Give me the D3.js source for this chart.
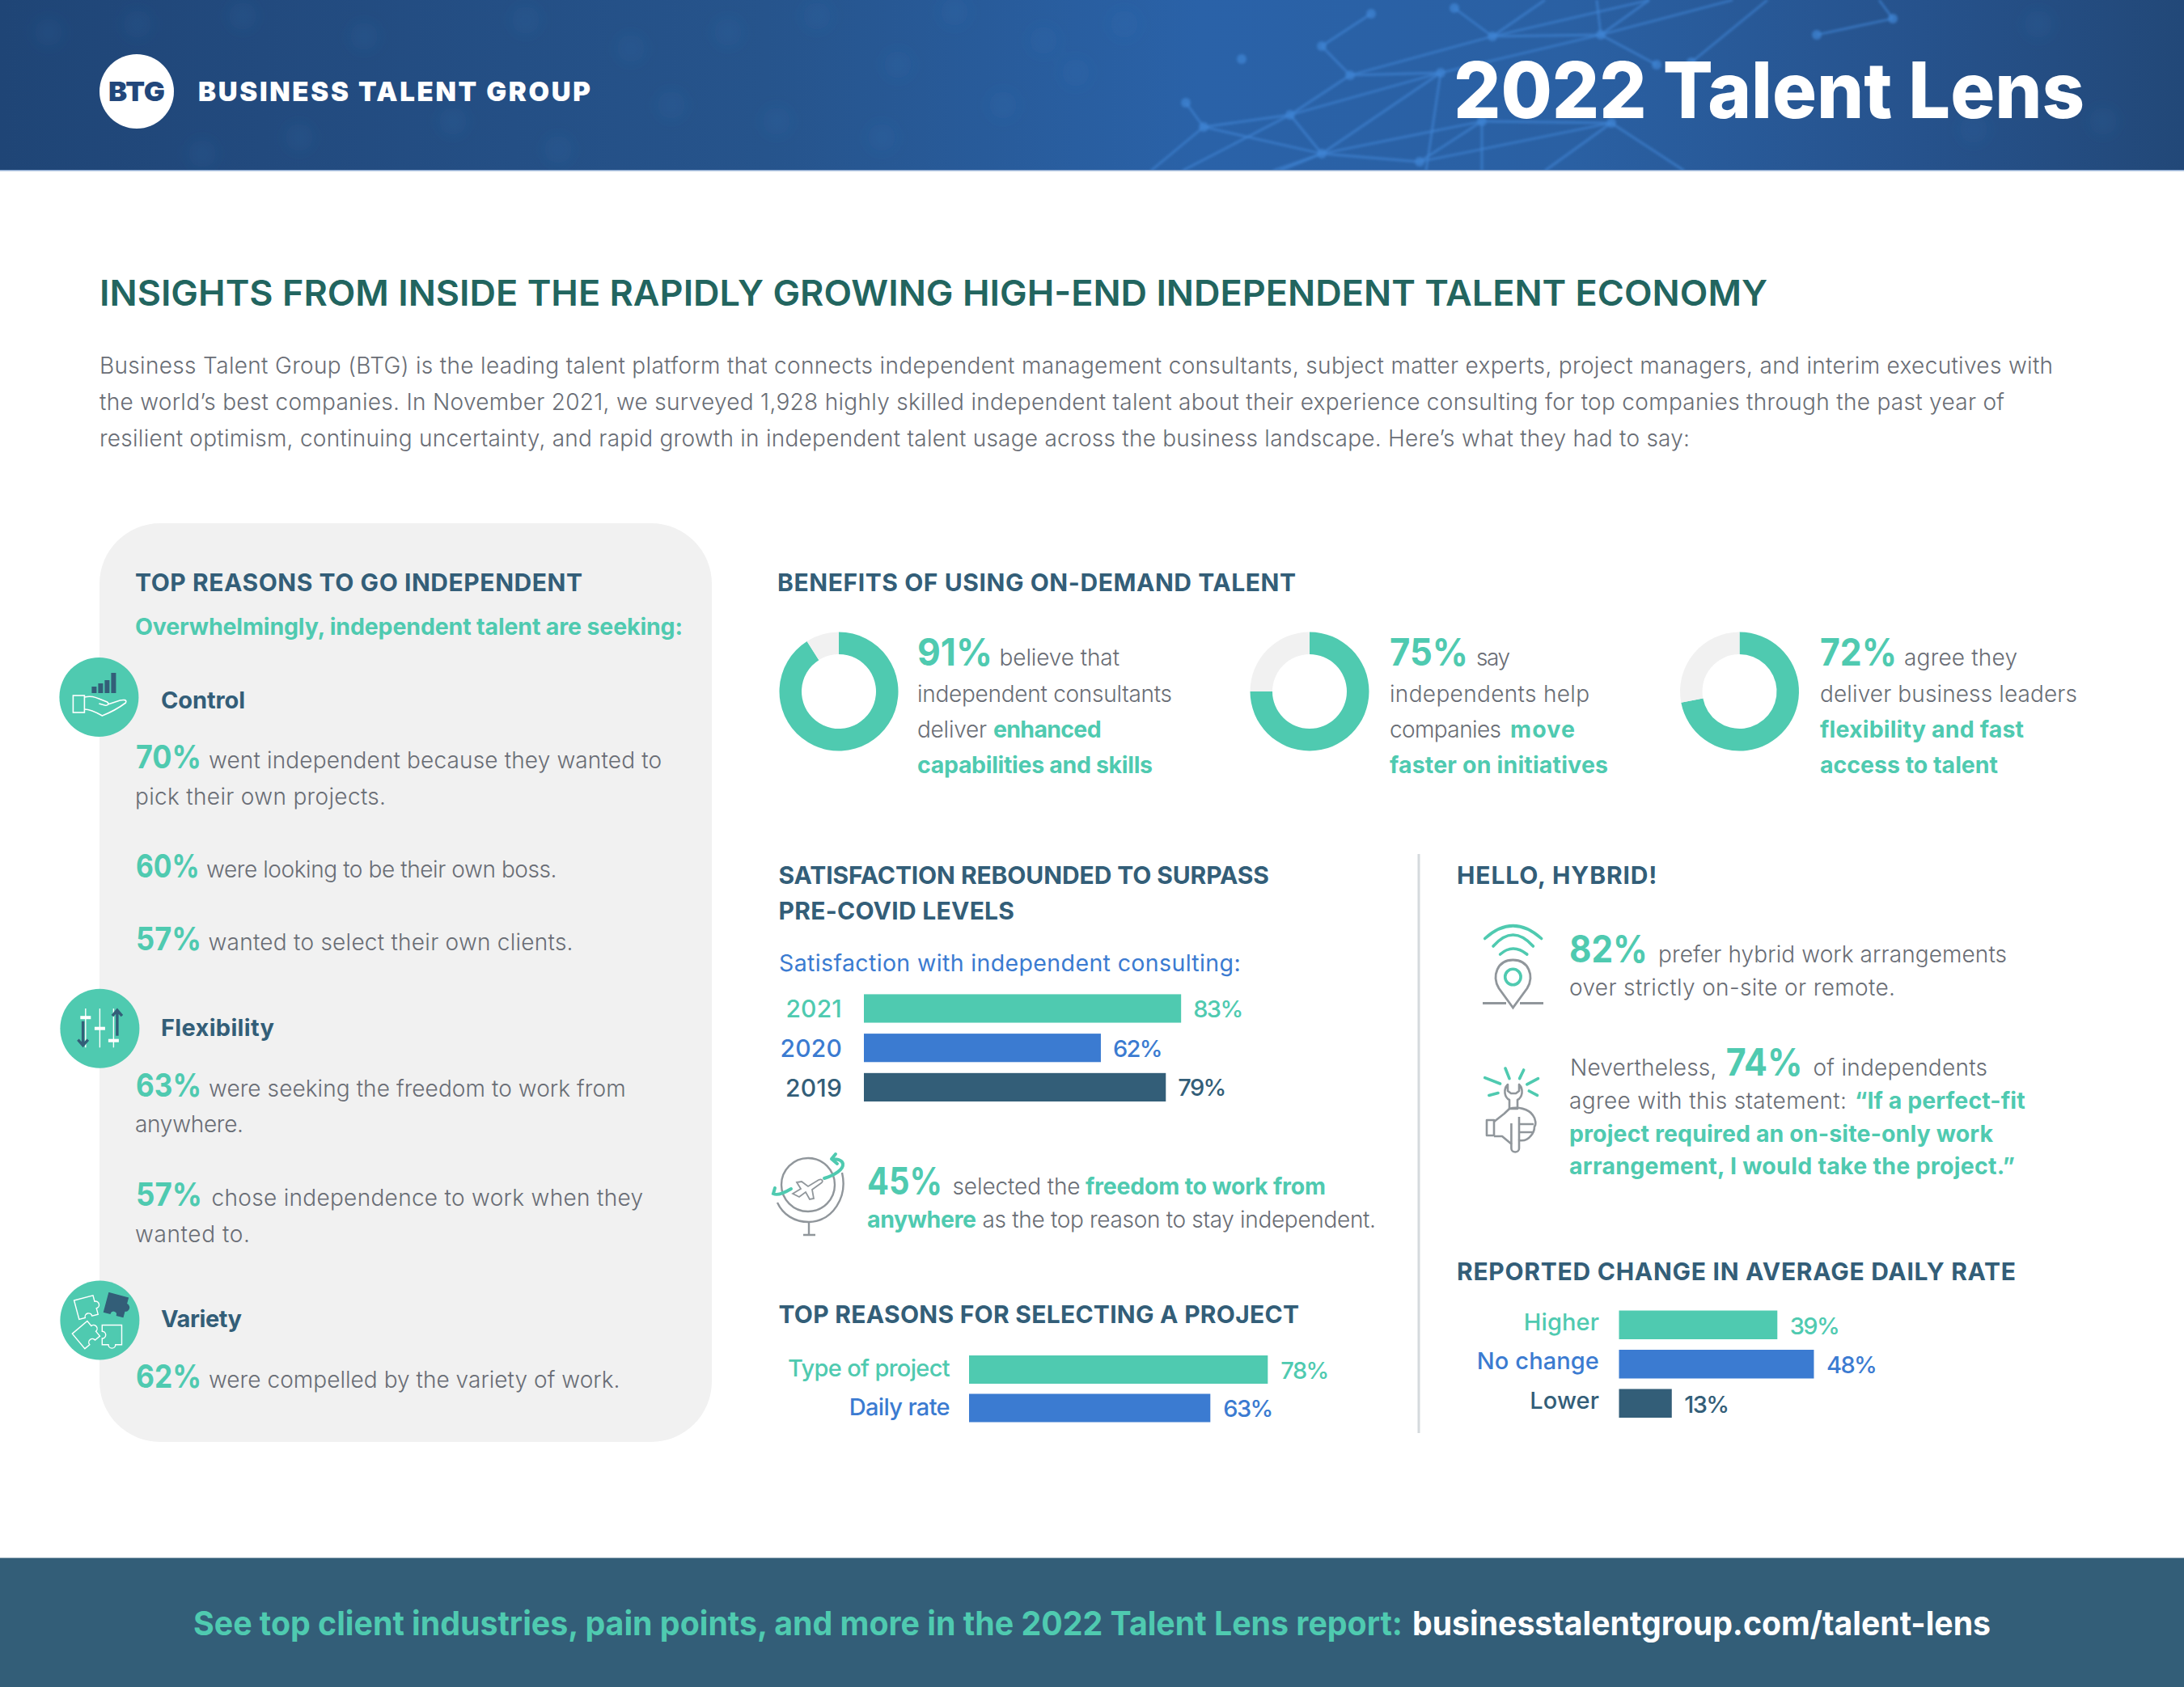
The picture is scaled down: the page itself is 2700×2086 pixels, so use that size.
<!DOCTYPE html>
<html>
<head>
<meta charset="utf-8">
<script src="https://cdn.jsdelivr.net/npm/d3@7"></script>
<style>
	html, body { margin: 0; padding: 0; background: #fff; }
	svg { display: block; }
	text { font-family: Inter, "Open Sans", sans-serif; }
	.axis path, .axis line { display: none; }
</style>
</head>
<body>
<script>
// chart values
var benefitValues = [91, 75, 72];
var satisfactionYears = ["2021", "2020", "2019"];
var satisfactionValues = [83, 62, 79];
var projectReasons = ["Type of project", "Daily rate"];
var projectValues = [78, 63];
var rateLabels = ["Higher", "No change", "Lower"];
var rateValues = [39, 48, 13];
var controlValues = [70, 60, 57];
var flexibilityValues = [63, 57];
var varietyValues = [62];
var stayValue = 45;
var hybridValue = 82;
var onsiteValue = 74;

// faint network in the banner
var netNodes = [[1845,45],[1979,43],[1669,93],[1781,90],[1595,142],[1488,157],[1634,190],[1755,200],[1832,150],[1992,152],[2340,23],[2039,0],[1798,10],[1466,127],[1634,57],[1535,73],[1695,17],[2142,0],[2048,80],[2246,43],[1423,211],[1583,211],[1574,211],[1910,0],[1974,0],[2185,0],[1832,211],[1763,211],[1910,211],[2082,211],[1462,211],[2323,0],[2091,77]];
var netEdges = [[0,1],[0,12],[0,23],[0,11],[1,17],[1,11],[1,24],[1,18],[32,25],[0,2],[1,3],[2,3],[2,14],[2,4],[3,4],[14,16],[4,5],[4,6],[13,5],[5,20],[5,6],[6,7],[6,8],[6,21],[6,22],[3,6],[8,9],[7,9],[7,8],[8,26],[3,27],[9,28],[9,29],[10,19],[10,31],[4,30]];
var netBlobs = [[60,40],[170,30],[300,20],[450,45],[650,25],[780,60],[900,40],[1010,20],[1180,15],[1290,50],[250,190],[370,170],[560,150],[690,185],[830,130],[960,150],[1090,170],[1240,130],[1330,90],[1110,80],[1390,30],[2520,30],[2440,160],[2600,150]];

var TEAL = "#4fcab0", BLUE = "#3b7bd1", NAVY = "#335e78", GREY = "#696d75", ICON = "#90969b";
var colors = [TEAL, BLUE, NAVY];

var svg = d3.select("body").append("svg").attr("width", 2700).attr("height", 2086);
var defs = svg.append("defs");

var bg = defs.append("linearGradient").attr("id", "banner");
[[0, "#1f4576"], [.12, "#224a7e"], [.35, "#26548c"], [.55, "#2a62a8"], [.72, "#2a60a3"], [.88, "#26528c"], [1, "#224878"]].forEach(function(s){
	bg.append("stop").attr("offset", s[0]).attr("stop-color", s[1]);
});
defs.append("filter").attr("id", "soft").append("feGaussianBlur").attr("stdDeviation", 1.5);
defs.append("filter").attr("id", "softer").append("feGaussianBlur").attr("stdDeviation", 9);

// text run squeezed or spread to sit between x0 and x1
function put(parent, str, x0, x1, y, size, weight, fill) {
	var t = parent.append("text")
		.attr("x", x0).attr("y", y)
		.attr("font-size", size).attr("font-weight", weight).attr("fill", fill)
		.text(str);
	var w = t.node().getComputedTextLength();
	t.attr("letter-spacing", ((x1 - x0 - w) / Math.max(1, str.length - 1)).toFixed(3));
	return t;
}
// same but the glyphs get narrower, for the tight display type
function putTight(parent, str, x0, x1, y, size, weight, fill) {
	return parent.append("text")
		.attr("x", x0).attr("y", y)
		.attr("font-size", size).attr("font-weight", weight).attr("fill", fill)
		.attr("textLength", x1 - x0).attr("lengthAdjust", "spacingAndGlyphs")
		.text(str);
}
function head(str, x0, x1, y) { return put(svg, str, x0, x1, y, 30, 700, NAVY); }
function body(str, x0, x1, y) { return put(svg, str, x0, x1, y, 28, 300, GREY); }
function strong(str, x0, x1, y) { return put(svg, str, x0, x1, y, 28.5, 700, TEAL); }
function big(v, x0, x1, y, size) { return putTight(svg, v + "%", x0, x1, y, size || 40, 700, TEAL); }

// banner
svg.append("rect").attr("width", 2700).attr("height", 211).attr("fill", "url(#banner)");
var clip = defs.append("clipPath").attr("id", "bannerClip");
clip.append("rect").attr("width", 2700).attr("height", 210);
var blobs = svg.append("g").attr("clip-path", "url(#bannerClip)").append("g").attr("filter", "url(#softer)");
blobs.selectAll("circle").data(netBlobs).enter().append("circle")
	.attr("cx", function(d){ return d[0]; })
	.attr("cy", function(d){ return d[1]; })
	.attr("r", 17).attr("fill", "#3f7cc6").attr("fill-opacity", .1);
var net = svg.append("g").attr("clip-path", "url(#bannerClip)").append("g").attr("filter", "url(#soft)");
net.selectAll("line").data(netEdges).enter().append("line")
	.attr("x1", function(d){ return netNodes[d[0]][0]; })
	.attr("y1", function(d){ return netNodes[d[0]][1]; })
	.attr("x2", function(d){ return netNodes[d[1]][0]; })
	.attr("y2", function(d){ return netNodes[d[1]][1]; })
	.attr("stroke", "#4084d4").attr("stroke-opacity", .68).attr("stroke-width", 2.8);
net.selectAll("circle").data(netNodes.filter(function(d){ return d[1] > 0 && d[1] < 211; })).enter().append("circle")
	.attr("cx", function(d){ return d[0]; })
	.attr("cy", function(d){ return d[1]; })
	.attr("r", 6).attr("fill", "#4084d4").attr("fill-opacity", .7);
svg.append("rect").attr("y", 210).attr("width", 2700).attr("height", 1.5).attr("fill", "#8fabd2");

svg.append("circle").attr("cx", 169).attr("cy", 113).attr("r", 46).attr("fill", "#fff");
putTight(svg, "BTG", 134, 204, 124.5, 33, 900, "#22477b");
put(svg, "BUSINESS TALENT GROUP", 245, 730, 125, 33, 900, "#fff");
putTight(svg, "2022 Talent Lens", 1797, 2577, 145.7, 96, 800, "#fff");

// intro
putTight(svg, "INSIGHTS FROM INSIDE THE RAPIDLY GROWING HIGH-END INDEPENDENT TALENT ECONOMY", 123, 2185, 378, 44, 600, "#22655f");
body("Business Talent Group (BTG) is the leading talent platform that connects independent management consultants, subject matter experts, project managers, and interim executives with", 123, 2538, 462);
body("the world\u2019s best companies. In November 2021, we surveyed 1,928 highly skilled independent talent about their experience consulting for top companies through the past year of", 123, 2478, 507);
body("resilient optimism, continuing uncertainty, and rapid growth in independent talent usage across the business landscape. Here\u2019s what they had to say:", 123, 2089, 552);

// left panel
svg.append("rect").attr("x", 123).attr("y", 647).attr("width", 757).attr("height", 1136).attr("rx", 75).attr("fill", "#f1f1f1");
head("TOP REASONS TO GO INDEPENDENT", 167, 720, 730.5);
strong("Overwhelmingly, independent talent are seeking:", 167, 844, 785);

var iconControl = svg.append("g").attr("transform", "translate(122.4,862)");
var iconFlex = svg.append("g").attr("transform", "translate(123.4,1271.7)");
var iconVariety = svg.append("g").attr("transform", "translate(123.4,1632.6)");
[iconControl, iconFlex, iconVariety].forEach(function(g){
	g.append("circle").attr("r", 49).attr("fill", TEAL);
});

// hand with small bars
[[-9, 8], [-1, 12], [7, 16], [15, 25]].forEach(function(b){
	iconControl.append("rect").attr("x", b[0]).attr("y", -5 - b[1]).attr("width", 6).attr("height", b[1]).attr("fill", NAVY);
});
iconControl.append("rect").attr("x", -32).attr("y", -2).attr("width", 14).attr("height", 21).attr("fill", "none").attr("stroke", "#fff").attr("stroke-width", 1.6);
iconControl.append("path")
	.attr("d", "M-18,0 C-10,-2 -5,0 0,2 L10,6 C13,8 11,11 7,10 L0,8 M-18,15 C-10,15 -3,19 4,23 C14,19 25,13 33,7 C35,3 30,3 26,4 L11,9")
	.attr("fill", "none").attr("stroke", "#fff").attr("stroke-width", 1.6);

// sliders with arrows
[[-17.6, -13.5], [0, 0], [17, 15]].forEach(function(s){
	iconFlex.append("line").attr("x1", s[0]).attr("x2", s[0]).attr("y1", -24.6).attr("y2", 23.6).attr("stroke", "#fff").attr("stroke-width", 1.4);
	iconFlex.append("rect").attr("x", s[0] - 6.5).attr("y", s[1] - 2).attr("width", 13).attr("height", 4).attr("fill", "#fff");
});
iconFlex.append("path").attr("d", "M-20.8,-9 V21 M-27,14 L-20.8,21 L-14.6,14 M21.5,9 V-22.6 M15.5,-15.5 L21.5,-22.6 L27.5,-15.5")
	.attr("fill", "none").attr("stroke", NAVY).attr("stroke-width", 3.4);

// puzzle pieces
var piece = "M-11,-11 H11 V-4 a4,4 0 1 1 0,8 V11 H4 a4,4 0 1 0 -8,0 H-11 Z";
[[-17, -16, -15, false], [20, -19, 15, true], [-17, 18, -40, false], [15, 18, 90, false]].forEach(function(p){
	iconVariety.append("path").attr("d", piece)
		.attr("transform", "translate(" + p[0] + "," + p[1] + ") rotate(" + p[2] + ") scale(1.1)")
		.attr("fill", p[3] ? NAVY : "none").attr("stroke", p[3] ? NAVY : "#fff").attr("stroke-width", 1.3);
});

put(svg, "Control", 199, 303, 876, 29, 700, NAVY);
big(controlValues[0], 168, 249, 950);
body("went independent because they wanted to", 258, 818, 950);
body("pick their own projects.", 167, 477, 995);
big(controlValues[1], 168, 246.7, 1085);
body("were looking to be their own boss.", 255, 688.5, 1085);
big(controlValues[2], 168, 249, 1175);
body("wanted to select their own clients.", 257.5, 708.5, 1175);

put(svg, "Flexibility", 199, 339, 1281, 29, 700, NAVY);
big(flexibilityValues[0], 168, 249, 1355.5);
body("were seeking the freedom to work from", 258, 773.6, 1355.5);
body("anywhere.", 167, 301, 1400);
big(flexibilityValues[1], 168, 250, 1491);
body("chose independence to work when they", 261.5, 795, 1491);
body("wanted to.", 167, 309, 1535.6);

put(svg, "Variety", 199, 299, 1641, 29, 700, NAVY);
big(varietyValues[0], 168, 249, 1716);
body("were compelled by the variety of work.", 258, 766.5, 1716);

// benefits donuts
head("BENEFITS OF USING ON-DEMAND TALENT", 961, 1602, 730.5);
var pie = d3.pie().sort(null);
var arc = d3.arc().innerRadius(46).outerRadius(73.5);
var donutX = d3.scaleOrdinal().domain(benefitValues).range([1037, 1619, 2150.5]);
benefitValues.forEach(function(v){
	var g = svg.append("g").attr("transform", "translate(" + donutX(v) + ",855)");
	g.selectAll("path").data(pie([v, 100 - v])).enter().append("path")
		.attr("d", arc)
		.attr("fill", function(d, i){ return i == 0 ? TEAL : "#f1f1f1"; });
});

big(benefitValues[0], 1134, 1227, 823, 46);
body("believe that", 1235.5, 1384, 823);
body("independent consultants", 1134, 1449, 867.5);
body("deliver", 1134, 1220, 911.7);
strong("enhanced", 1228, 1361.6, 911.7);
strong("capabilities and skills", 1134, 1425, 956);

big(benefitValues[1], 1718, 1815, 823, 46);
body("say", 1825, 1867, 823);
body("independents help", 1718, 1965, 867.5);
body("companies", 1718, 1856, 911.7);
strong("move", 1867, 1947, 911.7);
strong("faster on initiatives", 1718, 1988, 956);

big(benefitValues[2], 2250, 2345, 823, 46);
body("agree they", 2354, 2494, 823);
body("deliver business leaders", 2250, 2568, 867.5);
strong("flexibility and fast", 2250, 2502, 911.7);
strong("access to talent", 2250, 2470, 956);

// horizontal bar block: value scale, band scale, left axis for the labels
function barBlock(opts) {
	var x = d3.scaleLinear().domain([0, 100]).range([opts.x0, opts.x0 + opts.perPct * 100]);
	var y = d3.scaleBand().domain(opts.labels).range(opts.yRange).paddingInner(opts.pad);
	var g = svg.append("g");
	g.selectAll("rect").data(opts.values).enter().append("rect")
		.attr("x", x(0))
		.attr("y", function(d, i){ return y(opts.labels[i]); })
		.attr("width", function(d){ return x(d) - x(0); })
		.attr("height", y.bandwidth())
		.attr("fill", function(d, i){ return colors[i]; });
	var axis = g.append("g").attr("class", "axis")
		.attr("transform", "translate(" + x(0) + ",0)")
		.call(d3.axisLeft(y).tickSize(0).tickPadding(opts.tickPad));
	axis.selectAll("text")
		.attr("font-size", opts.labelSize)
		.attr("font-weight", 500)
		.attr("letter-spacing", opts.labelSpacing)
		.attr("dy", opts.labelDy)
		.attr("fill", function(d, i){ return colors[i]; });
	g.selectAll("text.val").data(opts.values).enter().append("text")
		.attr("class", "val")
		.attr("x", function(d){ return x(d) + opts.valGap; })
		.attr("y", function(d, i){ return y(opts.labels[i]) + y.bandwidth() / 2 + opts.valDy; })
		.attr("font-size", opts.valSize)
		.attr("font-weight", 500)
		.attr("letter-spacing", opts.valSpacing)
		.attr("fill", function(d, i){ return colors[i]; })
		.text(function(d){ return d + "%"; });
}

// satisfaction
head("SATISFACTION REBOUNDED TO SURPASS", 962.5, 1569, 1093);
head("PRE-COVID LEVELS", 962.5, 1254, 1137);
put(svg, "Satisfaction with independent consulting:", 963, 1533.6, 1201, 28.5, 400, BLUE);
barBlock({ labels: satisfactionYears, values: satisfactionValues, x0: 1068, perPct: 4.725, yRange: [1229.4, 1362], pad: .278,
	tickPad: 27, labelSize: 30, labelSpacing: .2, labelDy: "0.38em",
	valGap: 15, valDy: 11, valSize: 29, valSpacing: -1.6 });

// globe note
var globe = svg.append("g").attr("fill", "none").attr("stroke", ICON).attr("stroke-width", 2.4);
globe.append("circle").attr("cx", 999).attr("cy", 1465).attr("r", 33);
globe.append("path").attr("d", "M1041,1450 C1048,1480 1030,1510 1000,1511 C982,1511 968,1502 961,1487");
globe.append("path").attr("d", "M1000,1511 V1527 M993,1527 H1008");
globe.append("path").attr("d", "M980,1476 L990,1470 L985,1462 L991,1461 L999,1467 L1012,1459 C1017,1457 1018,1461 1015,1463 L1004,1471 L1006,1482 L1001,1483 L996,1474 L988,1480 Z").attr("stroke-width", 1.8);
var swoosh = svg.append("g").attr("fill", "none").attr("stroke", TEAL).attr("stroke-width", 4).attr("stroke-linecap", "round");
swoosh.append("path").attr("d", "M978,1470 C968,1476 960,1478 956,1476 L958,1469");
swoosh.append("path").attr("d", "M1019,1457 C1032,1453 1043,1446 1042,1439 C1041,1434 1033,1433 1028,1433 M1028,1433 L1033,1427 M1028,1433 L1035,1439");

big(stayValue, 1072, 1165, 1477, 46);
body("selected the", 1177.5, 1335.6, 1477);
strong("freedom to work from", 1342, 1639, 1477);
strong("anywhere", 1072, 1207, 1518);
body("as the top reason to stay independent.", 1214.5, 1701, 1518);

// project reasons
head("TOP REASONS FOR SELECTING A PROJECT", 962.5, 1606, 1635.7);
barBlock({ labels: projectReasons, values: projectValues, x0: 1198, perPct: 4.735, yRange: [1676, 1758.5], pad: .263,
	tickPad: 24, labelSize: 29, labelSpacing: -.65, labelDy: "0.3em",
	valGap: 16, valDy: 11, valSize: 29, valSpacing: -1.6 });

// divider
svg.append("rect").attr("x", 1752.5).attr("y", 1056).attr("width", 3).attr("height", 716).attr("fill", "#d5dadd");

// hybrid
head("HELLO, HYBRID!", 1801, 2048.5, 1092.5);
var wifi = svg.append("g").attr("fill", "none").attr("stroke", TEAL).attr("stroke-width", 3.6).attr("stroke-linecap", "round");
wifi.append("path").attr("d", "M1835.7,1160.5 Q1870.4,1129 1905.6,1160.5");
wifi.append("path").attr("d", "M1846,1170 Q1870.4,1142 1895.4,1170");
wifi.append("path").attr("d", "M1854.6,1180 Q1870.4,1166 1887.8,1180");
wifi.append("circle").attr("cx", 1870.4).attr("cy", 1208).attr("r", 9.7);
var pin = svg.append("g").attr("fill", "none").attr("stroke", ICON).attr("stroke-width", 2.8);
pin.append("path").attr("d", "M1870.4,1246 L1853,1222 C1844,1207 1851,1187 1870.4,1187 C1890,1187 1897,1207 1888,1222 Z");
pin.append("path").attr("d", "M1833,1240.5 H1862 M1879,1240.5 H1908");

big(hybridValue, 1940, 2037, 1189.6, 46);
body("prefer hybrid work arrangements", 2050, 2481, 1189.6);
body("over strictly on-site or remote.", 1940, 2343, 1230.8);

var rays = [[1861,1321,1866,1333.6],[1883.7,1323,1878.6,1333.6],[1835.7,1332.6,1854.6,1340],[1901.5,1333.6,1887.8,1340.8],[1840.8,1354.4,1852,1351.5],[1900.5,1354.4,1890.3,1349]];
svg.append("g").selectAll("line").data(rays).enter().append("line")
	.attr("x1", function(d){ return d[0]; }).attr("y1", function(d){ return d[1]; })
	.attr("x2", function(d){ return d[2]; }).attr("y2", function(d){ return d[3]; })
	.attr("stroke", TEAL).attr("stroke-width", 3.6).attr("stroke-linecap", "round");
var wrench = svg.append("g").attr("fill", "none").attr("stroke", ICON).attr("stroke-width", 2.6).attr("stroke-linejoin", "round");
wrench.append("path").attr("d", "M1864,1341 C1858,1347 1860,1357 1866,1360 V1371 H1876 V1360 C1882,1357 1884,1347 1878,1341 V1349 L1874,1352 H1868 L1864,1349 Z");
wrench.append("path").attr("d", "M1838,1385 H1847 V1404 H1838 Z");
wrench.append("path").attr("d", "M1847,1387 L1859.7,1377 L1866,1371 C1876,1368 1890,1371 1895,1379 C1899,1384 1899,1391 1897,1393 C1897,1399 1894,1403 1892,1405 C1889,1409 1884,1411 1878,1410 L1878,1420 C1878,1426 1868.4,1426 1868.4,1420 V1414.5 L1857,1405 H1847");
wrench.append("path").attr("d", "M1868.4,1414.5 V1389 M1878,1410 V1381 M1878,1390 H1896 M1878,1400 H1895");

body("Nevertheless,", 1941, 2122.4, 1330);
big(onsiteValue, 2133.7, 2228.6, 1330, 46);
body("of independents", 2241.5, 2457, 1330);
body("agree with this statement:", 1940, 2283, 1371);
strong("\u201cIf a perfect-fit", 2293, 2503.6, 1371);
strong("project required an on-site-only work", 1940, 2464, 1412);
strong("arrangement, I would take the project.\u201d", 1940, 2491, 1452);

// daily rate
head("REPORTED CHANGE IN AVERAGE DAILY RATE", 1801, 2492, 1582.7);
barBlock({ labels: rateLabels, values: rateValues, x0: 2001.5, perPct: 5.02, yRange: [1620.5, 1753], pad: .268,
	tickPad: 24.5, labelSize: 29, labelSpacing: .1, labelDy: "0.23em",
	valGap: 15.5, valDy: 11.5, valSize: 29, valSpacing: -1.6 });

// footer
svg.append("rect").attr("y", 1926).attr("width", 2700).attr("height", 160).attr("fill", NAVY);
svg.append("rect").attr("y", 1926).attr("width", 2700).attr("height", 1).attr("fill", "#7d97a8");
putTight(svg, "See top client industries, pain points, and more in the 2022 Talent Lens report:", 239, 1734, 2022, 41, 700, TEAL);
putTight(svg, "businesstalentgroup.com/talent-lens", 1746, 2461, 2022, 41, 700, "#fff");
</script>
</body>
</html>
